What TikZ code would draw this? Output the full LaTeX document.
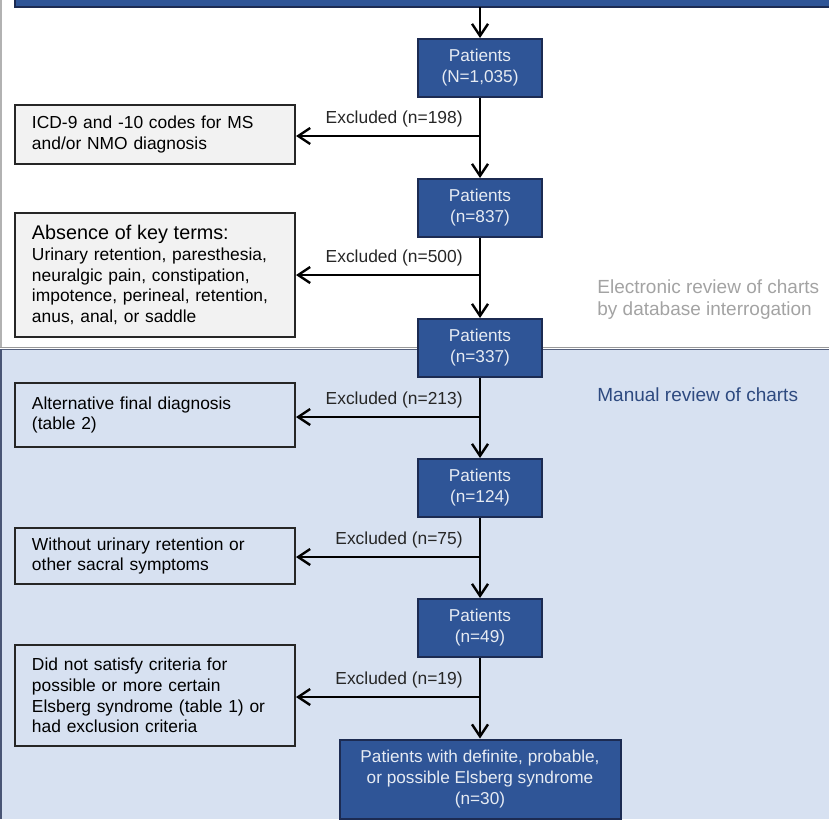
\documentclass[tikz,border=0pt]{standalone}
\usepackage{fontspec}
\setmainfont{Liberation Sans}
\usetikzlibrary{arrows.meta,positioning}
\definecolor{boxblue}{HTML}{2F5597}
\definecolor{boxedge}{HTML}{1C2B52}
\definecolor{panelblue}{HTML}{D7E1F1}
\definecolor{notegray}{HTML}{F2F2F2}
\definecolor{labelgray}{HTML}{A3A3A3}
\definecolor{labelblue}{HTML}{2E4A80}
\tikzset{
  patients/.style={draw=boxedge,line width=1pt,fill=boxblue,text=white!88!boxblue,align=center,
    font=\fontsize{8.6}{10.5}\selectfont,minimum width=62pt,minimum height=29pt,inner sep=0pt},
  exclbox/.style={draw=black!85,line width=1pt,align=left,font=\fontsize{8.7}{10.35}\selectfont,
    inner xsep=8.5pt,inner ysep=0pt,text width=123pt},
  flow/.style={line width=1.2pt,-{Straight Barb[length=6pt,width=8pt,line width=1.2pt]}},
  exlabel/.style={inner sep=0pt,font=\fontsize{8.7}{11}\selectfont,text=black!85},
  sidetext/.style={anchor=west,inner sep=0pt,align=left,font=\fontsize{9.5}{11}\selectfont}
}
\begin{document}
\begin{tikzpicture}[x=0.5pt,y=-0.5pt]
  \useasboundingbox (0,0) rectangle (829,819);
  \fill[panelblue](0,349)rectangle(829,819);
  \draw[gray!60,line width=1pt](1,0)--(1,347);
  \draw[black!40,line width=0.8pt](0,347.3)--(829,347.3);
  \draw[boxedge!75,line width=0.8pt](0,349.5)--(829,349.5);
  \draw[boxedge!80,line width=1pt](0.8,349)--(0.8,819);
  \draw[boxedge,line width=1pt,fill=boxblue](15,-20)rectangle(845,7);
  \coordinate (top) at (480,7);
  \node[patients] (b1) at (480,68) {Patients\\(N=1,035)};
  \node[patients] (b2) at (480,208) {Patients\\(n=837)};
  \node[patients] (b3) at (480,348) {Patients\\(n=337)};
  \node[patients] (b4) at (480,488) {Patients\\(n=124)};
  \node[patients] (b5) at (480,628) {Patients\\(n=49)};
  \node[patients,minimum width=140.5pt,minimum height=39.5pt] (b6) at (480,779)
    {Patients with definite, probable,\\or possible Elsberg syndrome\\(n=30)};
  \node[exclbox,fill=notegray,minimum height=29.5pt] (e1) at (155,134.5)
    {ICD-9 and -10 codes for MS\\and/or NMO diagnosis};
  \node[exclbox,fill=notegray,minimum height=62pt] (e2) at (155,275)
    {{\fontsize{9.9}{11}\selectfont Absence of key terms:}\\Urinary retention, paresthesia,\\neuralgic pain, constipation,\\impotence, perineal, retention,\\anus, anal, or saddle};
  \node[exclbox,fill=panelblue,minimum height=32pt] (e3) at (155,415)
    {Alternative final diagnosis\\(table 2)};
  \node[exclbox,fill=panelblue,minimum height=28pt] (e4) at (155,556)
    {Without urinary retention or\\other sacral symptoms};
  \node[exclbox,fill=panelblue,minimum height=50.5pt] (e5) at (155,695.5)
    {Did not satisfy criteria for\\possible or more certain\\Elsberg syndrome (table 1) or\\had exclusion criteria};
  \coordinate (j1) at (480,136);
  \coordinate (j2) at (480,275);
  \coordinate (j3) at (480,417);
  \coordinate (j4) at (480,557);
  \coordinate (j5) at (480,697);
  \foreach \j/\n in {1/198,2/500,3/213,4/75,5/19}
  {
    \node[exlabel,above left=4.2pt and 8.5pt of j\j] (x\j) {Excluded (n=\n)};
    \draw[flow](j\j)--(j\j -| e\j.east);
  }
  \draw[flow](top)--(b1);
  \foreach \a/\b in {b1/b2,b2/b3,b3/b4,b4/b5,b5/b6}
    \draw[flow](\a)--(\b);
  \node[sidetext,text=labelgray] (elec) at (597,300) {Electronic review of charts\\by database interrogation};
  \node[sidetext,text=labelblue] (manual) at (597,395) {Manual review of charts};
\end{tikzpicture}
\end{document}
